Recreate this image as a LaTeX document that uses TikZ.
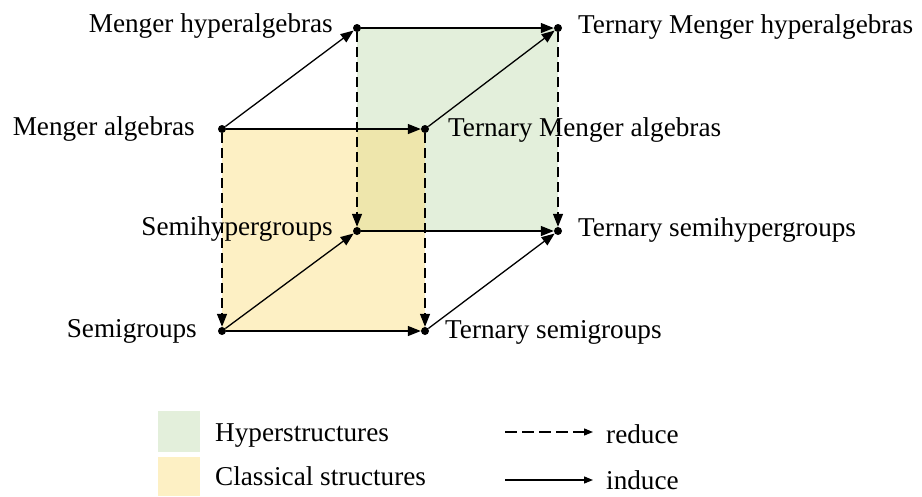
\documentclass[tikz,border=0pt]{standalone}
\usepackage{fontspec}
\setmainfont{Liberation Serif}
\usetikzlibrary{arrows.meta, positioning, backgrounds}
\definecolor{hypergreen}{RGB}{227,239,219}
\definecolor{classyellow}{RGB}{253,240,196}
\definecolor{overlapolive}{RGB}{238,230,172}

\begin{document}
\begin{tikzpicture}[x=1pt, y=-1pt,
    vertex/.style={circle, fill=black, inner sep=0pt, minimum size=8pt},
    lbl/.style={font=\fontsize{27.2}{32}\selectfont, inner sep=0pt},
    induce/.style={-{Triangle[length=13pt, width=10pt]}, line width=1.3pt},
    reduce/.style={induce, dash pattern=on 10pt off 5pt},
    keyinduce/.style={-{Triangle[length=9pt, width=7pt]}, line width=1.3pt},
    keyreduce/.style={keyinduce, dash pattern=on 12pt off 5pt},
]
    \useasboundingbox (0,0) rectangle (922,496);

    % vertices of the cube
    \node[vertex] (mh)  at (357,28)  {};
    \node[vertex] (tmh) at (558,28)  {};
    \node[vertex] (ma)  at (222,129) {};
    \node[vertex] (tma) at (425,129) {};
    \node[vertex] (sh)  at (357,231) {};
    \node[vertex] (tsh) at (558,231) {};
    \node[vertex] (sg)  at (222,331) {};
    \node[vertex] (tsg) at (425,331) {};

    % shaded faces
    \begin{scope}[on background layer]
        \fill[white] (0,0) rectangle (922,496);
        \fill[hypergreen] (mh.center) rectangle (tsh.center);
        \fill[classyellow] (ma.center) rectangle (tsg.center);
        \fill[overlapolive] (mh.center |- ma.center) rectangle (tma.center |- sh.center);
    \end{scope}

    % labels
    \node[lbl, anchor=base east] (mhl)  at ([shift={(-24,4)}]mh.center)  {Menger hyperalgebras};
    \node[lbl, anchor=base west] (tmhl) at ([shift={(20,5)}]tmh.center)  {Ternary Menger hyperalgebras};
    \node[lbl, anchor=base east] (mal)  at ([shift={(-27,6)}]ma.center)  {Menger algebras};
    \node[lbl, anchor=base west] (tmal) at ([shift={(23,7)}]tma.center)  {Ternary Menger algebras};
    \node[lbl, anchor=base east] (shl)  at ([shift={(-24,4)}]sh.center)  {Semihypergroups};
    \node[lbl, anchor=base west] (tshl) at ([shift={(20,5)}]tsh.center)  {Ternary semihypergroups};
    \node[lbl, anchor=base east] (sgl)  at ([shift={(-25,6)}]sg.center)  {Semigroups};
    \node[lbl, anchor=base west] (tsgl) at ([shift={(20,7)}]tsg.center)  {Ternary semigroups};

    % induce
    \draw[induce] (ma) -- (mh);
    \draw[induce] (ma) -- (tma);
    \draw[induce] (tma) -- (tmh);
    \draw[induce] (mh) -- (tmh);
    \draw[induce] (sg) -- (sh);
    \draw[induce] (sg) -- (tsg);
    \draw[induce] (sh) -- (tsh);
    \draw[induce] (tsg) -- (tsh);

    % reduce
    \draw[reduce] (mh) -- (sh);
    \draw[reduce] (ma) -- (sg);
    \draw[reduce] (tmh) -- (tsh);
    \draw[reduce] (tma) -- (tsg);

    % legend
    \fill[hypergreen] (158,411) rectangle (200,452);
    \fill[classyellow] (158,457) rectangle (200,496);
    \node[lbl, anchor=base west] (hyperkey) at (215,441) {Hyperstructures};
    \node[lbl, anchor=base west] (classkey) at (215,485) {Classical structures};

    \coordinate (reducefrom) at (505,432);
    \coordinate (reduceto)   at (593,432);
    \coordinate (inducefrom) at (505,480);
    \coordinate (induceto)   at (593,480);
    \draw[keyreduce] (reducefrom) -- (reduceto);
    \draw[keyinduce] (inducefrom) -- (induceto);
    \node[lbl, anchor=base west] (reducekey) at (606,443) {reduce};
    \node[lbl, anchor=base west] (inducekey) at (606,489) {induce};
\end{tikzpicture}
\end{document}
